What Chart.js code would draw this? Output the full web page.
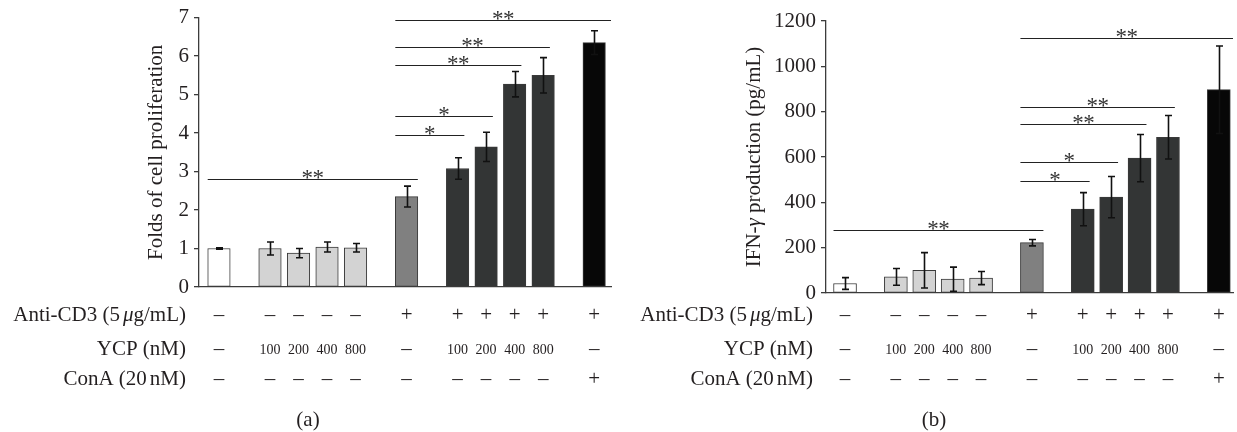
<!DOCTYPE html>
<html><head><meta charset="utf-8">
<script src="https://cdn.jsdelivr.net/npm/chart.js@4.4.1/dist/chart.umd.min.js"></script>
<style>
html,body{margin:0;padding:0;background:#fff;width:1237px;height:432px;overflow:hidden}
.panel{position:absolute;top:0;height:432px}
#wa{left:0;width:618px}
#wb{left:618px;width:619px}
</style></head><body>
<div class="panel" id="wa"><canvas id="ca" width="618" height="432"></canvas></div>
<div class="panel" id="wb"><canvas id="cb" width="619" height="432"></canvas></div>
<script>
// ---- data ----
const antiCD3 = ['–','–','–','–','–','+','+','+','+','+','+'];
const ycpDose = ['–','100','200','400','800','–','100','200','400','800','–'];
const conA    = ['–','–','–','–','–','–','–','–','–','–','+'];
const groupOf = [0,1,1,1,1,2,3,3,3,3,4];

const prolif    = [1.00,1.00,0.88,1.04,1.02,2.35,3.08,3.64,5.27,5.50,6.35];
const prolifErr = [0.02,0.17,0.12,0.13,0.11,0.27,0.28,0.38,0.33,0.46,0.31];
const prolifTicks = [0,1,2,3,4,5,6,7];

const ifn    = [42,71,100,61,66,222,370,423,595,687,897];
const ifnErr = [26,37,78,53,29,14,73,91,104,96,193];
const ifnTicks = [0,200,400,600,800,1000,1200];

const sigFrom = [0,5,5,5,5,5];
const sigTo   = [5,6,7,8,9,10];
const sigMark = ['**','*','*','**','**','**'];
const sigProlifY = [2.81,3.94,4.44,5.77,6.23,6.95];
const sigIfnY    = [279,496,580,746,819,1126];

// ---- style ----
const FONT = '"Liberation Serif", "Times New Roman", serif';
const FS = 21;
const TXT = '#231f20';
const groupFill = ['#ffffff','#d3d3d3','#808080','#333535','#070707'];
const GROUP_GAP = 0.79;
const xPos = groupOf.map((g,i)=> i + g*GROUP_GAP);

function font(size, italic){ return (italic?'italic ':'') + size + 'px ' + FONT; }
function richWidth(ctx, parts, size){
  let w = 0;
  for (const p of parts){ if (p.g){ w += p.g; continue; } ctx.font = font(size, p.i); w += ctx.measureText(p.t).width; }
  return w;
}
function drawRich(ctx, parts, x, y, size, align){
  const w = richWidth(ctx, parts, size);
  let cx = align === 'right' ? x - w : align === 'center' ? x - w/2 : x;
  ctx.textAlign = 'left';
  for (const p of parts){
    if (p.g){ cx += p.g; continue; }
    ctx.font = font(size, p.i);
    ctx.fillText(p.t, cx, y);
    cx += ctx.measureText(p.t).width;
  }
}

const rowLabels = [
  [{t:'Anti-CD3 (5'},{g:3},{t:'μ',i:true},{t:'g/mL)'}],
  [{t:'YCP (nM)'}],
  [{t:'ConA (20'},{g:3},{t:'nM)'}]
];
const rows = [antiCD3, ycpDose, conA];
const ROW_Y = [315, 349, 379];

function makePlugin(cfg){
  return {
    id: 'extras_' + cfg.key,
    afterDatasetsDraw(chart){
      const ctx = chart.ctx, xs = chart.scales.x, ys = chart.scales.y;
      const bw = cfg.bw;
      ctx.save();
      // error bars
      ctx.strokeStyle = '#111';
      ctx.lineWidth = 1.6;
      cfg.values.forEach((v,i)=>{
        const x = Math.round(xs.getPixelForValue(xPos[i])) + 0.5;
        const yt = ys.getPixelForValue(v + cfg.err[i]);
        const yb = ys.getPixelForValue(v - cfg.err[i]);
        ctx.beginPath();
        ctx.moveTo(x, yt); ctx.lineTo(x, yb);
        ctx.moveTo(x-3.5, yt); ctx.lineTo(x+3.5, yt);
        ctx.moveTo(x-3.5, yb); ctx.lineTo(x+3.5, yb);
        ctx.stroke();
      });
      // significance lines
      ctx.strokeStyle = '#222';
      ctx.lineWidth = 1.1;
      ctx.fillStyle = '#333';
      sigFrom.forEach((f,k)=>{
        const x1 = xs.getPixelForValue(xPos[f]) - bw/2;
        let x2 = sigTo[k] === 5 ? xs.getPixelForValue(xPos[5]) + bw/2 : xs.getPixelForValue(xPos[sigTo[k]]) + bw*0.3;
        if (sigTo[k] === 10) x2 = chart.chartArea.right;
        const y = Math.round(ys.getPixelForValue(cfg.sigY[k])) + 0.5;
        ctx.beginPath(); ctx.moveTo(x1, y); ctx.lineTo(x2, y); ctx.stroke();
        const cx = (x1 + x2)/2;
        ctx.font = font(23);
        ctx.textAlign = 'center';
        ctx.textBaseline = 'alphabetic';
        const n = sigMark[k].length;
        for (let s = 0; s < n; s++){
          const off = (s - (n-1)/2) * 11;
          ctx.fillText('*', cx + off, y + 5);
        }
      });
      ctx.restore();
    },
    afterDraw(chart){
      const ctx = chart.ctx, xs = chart.scales.x, area = chart.chartArea;
      ctx.save();
      ctx.fillStyle = TXT;
      ctx.textBaseline = 'middle';
      // y title
      ctx.save();
      ctx.translate(cfg.titleX, (area.top + area.bottom)/2);
      ctx.rotate(-Math.PI/2);
      drawRich(ctx, cfg.title, 0, 0, FS, 'center');
      ctx.restore();
      // condition table
      rows.forEach((row, r)=>{
        drawRich(ctx, rowLabels[r], cfg.labelRight, ROW_Y[r], FS, 'right');
        row.forEach((s,i)=>{
          const x = xs.getPixelForValue(xPos[i]);
          const isNum = /\d/.test(s);
          ctx.font = font(isNum ? 14 : FS);
          ctx.textAlign = 'center';
          ctx.fillText(s, x, ROW_Y[r] + (isNum ? 1 : 0));
        });
      });
      // panel letter
      ctx.font = font(FS);
      ctx.textAlign = 'center';
      ctx.fillText(cfg.letter, cfg.letterX, 420);
      ctx.restore();
    }
  };
}

function buildChart(cfg){
  const ticks = cfg.ticks;
  return new Chart(document.getElementById(cfg.canvas), {
    type: 'bar',
    data: {
      datasets: [{
        data: cfg.values.map((v,i)=>({x: xPos[i], y: v})),
        backgroundColor: groupOf.map(g=>groupFill[g]),
        borderColor: '#3a3a3a',
        borderWidth: 1,
        borderSkipped: false,
        barThickness: cfg.bw
      }]
    },
    options: {
      responsive: false,
      animation: false,
      events: [],
      layout: { padding: cfg.padding },
      plugins: { legend: {display:false}, tooltip: {enabled:false} },
      scales: {
        x: {
          type: 'linear',
          min: cfg.xmin, max: cfg.xmax,
          offset: false,
          ticks: { display: false },
          grid: { display: false, offset: false },
          border: { display: true, color: '#3c3c3c', width: 1.3 },
          afterFit: s => { s.height = 0; }
        },
        y: {
          min: ticks[0], max: ticks[ticks.length-1],
          afterBuildTicks: s => { s.ticks = ticks.map(v=>({value:v})); },
          ticks: { font: { family: FONT, size: FS }, color: TXT, padding: 5, callback: v => String(v) },
          grid: { display: true, drawOnChartArea: false, drawTicks: true, tickLength: 5, color: '#3c3c3c', lineWidth: 1.3 },
          border: { display: true, color: '#3c3c3c', width: 1.3 },
          afterFit: s => { s.width = cfg.yWidth; }
        }
      }
    },
    plugins: [makePlugin(cfg)]
  });
}

buildChart({
  key: 'a', canvas: 'ca', values: prolif, err: prolifErr, ticks: prolifTicks, sigY: sigProlifY,
  bw: 22.5, xmin: -0.70, xmax: 13.75, yWidth: 199,
  padding: {left: 0, right: 7, top: 16, bottom: 145},
  title: [{t:'Folds of cell proliferation'}], titleX: 156,
  labelRight: 186, letter: '(a)', letterX: 308
});
buildChart({
  key: 'b', canvas: 'cb', values: ifn, err: ifnErr, ticks: ifnTicks, sigY: sigIfnY,
  bw: 23, xmin: -0.67, xmax: 13.66, yWidth: 208,
  padding: {left: 0, right: 4, top: 21, bottom: 139},
  title: [{t:'IFN-'},{t:'γ',i:true},{t:' production (pg/mL)'}], titleX: 136,
  labelRight: 195, letter: '(b)', letterX: 316
});
</script>
</body></html>
